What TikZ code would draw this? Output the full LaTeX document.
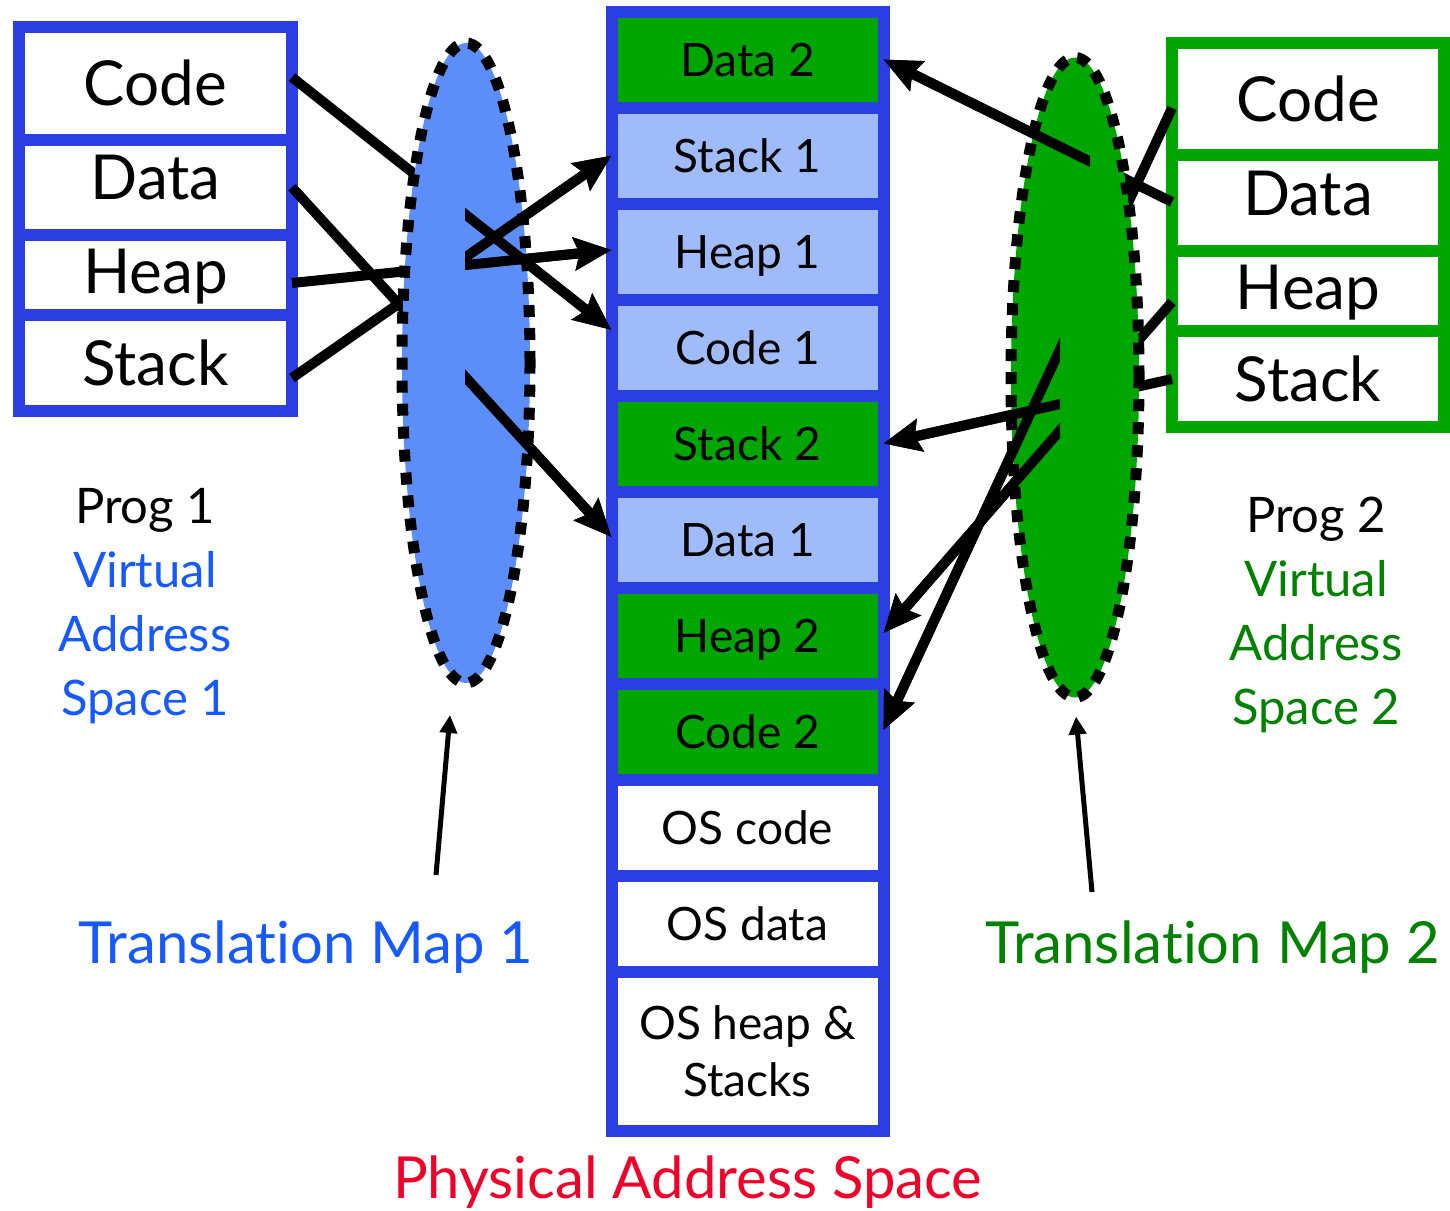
\documentclass[tikz,border=0pt]{standalone}
\usepackage{fontspec}
\setmainfont{Lato}[Ligatures=NoCommon]
\usetikzlibrary{positioning,arrows.meta,shapes.geometric}
\definecolor{memblue}{HTML}{2B3EE2}
\definecolor{lightmem}{HTML}{A0BBFA}
\definecolor{mapblue}{HTML}{5C8EFA}
\definecolor{memgreen}{HTML}{00A600}
\definecolor{txtblue}{HTML}{165AFF}
\definecolor{txtgreen}{HTML}{008200}
\definecolor{physred}{HTML}{F00028}
\tikzset{
  vcell/.style={draw=memblue, line width=12pt, fill=white, minimum width=273pt, inner sep=0pt, outer sep=0pt,
    text height=45pt, text depth=0pt, font=\fontsize{62}{70}\selectfont},
  wcell/.style={vcell, draw=memgreen, minimum width=272pt},
  pcell/.style={draw=memblue, line width=12pt, minimum width=272pt, minimum height=96pt, inner sep=0pt, outer sep=0pt,
    font=\fontsize{46}{57}\selectfont},
  pone/.style={pcell, text height=33pt, text depth=0pt},
  link/.style={line width=10pt, -{Stealth[length=37pt,width=32pt,inset=5pt]}},
  pointer/.style={line width=5pt, -{Triangle[length=18pt,width=17pt]}},
  map/.style={ellipse, draw=black, line width=11pt, dash pattern=on 12pt off 11pt,
    minimum width=128pt, minimum height=640pt, inner sep=0pt, outer sep=0pt},
  sidetext/.style={align=center, font=\fontsize{49}{64}\selectfont},
  bigtitle/.style={anchor=base, font=\fontsize{58}{70}\selectfont},
}

\begin{document}
\begin{tikzpicture}[x=1pt,y=-1pt]
  \useasboundingbox (0,0) rectangle (1450,1210);
  % program 1
  \node[vcell, minimum height=112.5pt] (V1Code) at (155.5,83.25) {Code};
  \node[vcell, minimum height=95.5pt, text depth=20pt, below=0pt of V1Code] (V1Data) {Data};
  \node[vcell, minimum height=80pt, text depth=9pt, below=0pt of V1Data] (V1Heap) {Heap};
  \node[vcell, minimum height=96pt, below=0pt of V1Heap] (V1Stack) {Stack};
  % program 2
  \node[wcell, minimum height=112pt] (V2Code) at (1308,99) {Code};
  \node[wcell, minimum height=96pt, text depth=20pt, below=0pt of V2Code] (V2Data) {Data};
  \node[wcell, minimum height=80pt, text depth=9pt, below=0pt of V2Data] (V2Heap) {Heap};
  \node[wcell, minimum height=96pt, below=0pt of V2Heap] (V2Stack) {Stack};
  % physical memory
  \node[pone, fill=memgreen] (PData2) at (747.5,59.5) {Data 2};
  \node[pone, fill=lightmem, below=0pt of PData2] (PStack1) {Stack 1};
  \node[pone, fill=lightmem, below=0pt of PStack1] (PHeap1) {Heap 1};
  \node[pone, fill=lightmem, below=0pt of PHeap1] (PCode1) {Code 1};
  \node[pone, fill=memgreen, below=0pt of PCode1] (PStack2) {Stack 2};
  \node[pone, fill=lightmem, below=0pt of PStack2] (PData1) {Data 1};
  \node[pone, fill=memgreen, below=0pt of PData1] (PHeap2) {Heap 2};
  \node[pone, fill=memgreen, below=0pt of PHeap2] (PCode2) {Code 2};
  \node[pone, fill=white, below=0pt of PCode2] (POSCode) {OS code};
  \node[pone, fill=white, below=0pt of POSCode] (POSData) {OS data};
  \node[pcell, fill=white, minimum height=159.5pt, align=center, below=0pt of POSData] (POSHeap) {OS heap \&\\Stacks};
  % mappings, under the ellipses
  \draw[link] ([yshift=6pt]V1Code.east) -- ([yshift=17.5pt]PCode1.west);
  \draw[link] (V1Data.east) -- ([yshift=2.5pt]PData1.west);
  \draw[link] ([yshift=-8pt]V1Heap.east) -- ([yshift=1.5pt]PHeap1.west);
  \draw[link] ([yshift=-15pt]V1Stack.east) -- (PStack1.west);
  \draw[link] ([yshift=1pt]V2Data.west) -- (PData2.east);
  \draw[link] ([yshift=-9pt]V2Code.west) -- ([yshift=1.5pt]PCode2.east);
  \draw[link] ([yshift=-11pt]V2Heap.west) -- ([yshift=2.5pt]PHeap2.east);
  \draw[link] (V2Stack.west) -- (PStack2.east);
  % translation maps
  \node[map, fill=mapblue] (Map1) at (466,363) {};
  \node[map, fill=memgreen] (Map2) at (1075,377.5) {};
  % mappings, out of the ellipses
  \begin{scope}
    \clip (465,0) rectangle (1450,1210);
    \draw[link] ([yshift=6pt]V1Code.east) -- ([yshift=17.5pt]PCode1.west);
    \draw[link] (V1Data.east) -- ([yshift=2.5pt]PData1.west);
    \draw[link] ([yshift=-8pt]V1Heap.east) -- ([yshift=1.5pt]PHeap1.west);
    \draw[link] ([yshift=-15pt]V1Stack.east) -- (PStack1.west);
  \end{scope}
  \begin{scope}
    \clip (0,0) rectangle (1090,1210);
    \draw[link] ([yshift=1pt]V2Data.west) -- (PData2.east);
  \end{scope}
  \begin{scope}
    \clip (0,0) rectangle (1060,1210);
    \draw[link] ([yshift=-9pt]V2Code.west) -- ([yshift=1.5pt]PCode2.east);
    \draw[link] ([yshift=-11pt]V2Heap.west) -- ([yshift=2.5pt]PHeap2.east);
    \draw[link] (V2Stack.west) -- (PStack2.east);
  \end{scope}
  % labels
  \node[sidetext] (Prog1) at (145,606) {Prog 1\\\textcolor{txtblue}{Virtual}\\\textcolor{txtblue}{Address}\\\textcolor{txtblue}{Space 1}};
  \node[sidetext] (Prog2) at (1316,615) {Prog 2\\\textcolor{txtgreen}{Virtual}\\\textcolor{txtgreen}{Address}\\\textcolor{txtgreen}{Space 2}};
  \node[bigtitle, text=txtblue] (TMap1) at (306,963) {Translation Map 1};
  \node[bigtitle, text=txtgreen] (TMap2) at (1212.5,963) {Translation Map 2};
  \node[bigtitle, text=physred] (PhysName) at (687.5,1198) {Physical Address Space};
  \coordinate (Tail1) at (436,875);
  \coordinate (Tail2) at (1092,892);
  \draw[pointer] (Tail1) -- ([xshift=-16pt,yshift=-32pt]Map1.south);
  \draw[pointer] (Tail2) -- ([xshift=1pt,yshift=-19pt]Map2.south);
\end{tikzpicture}
\end{document}
